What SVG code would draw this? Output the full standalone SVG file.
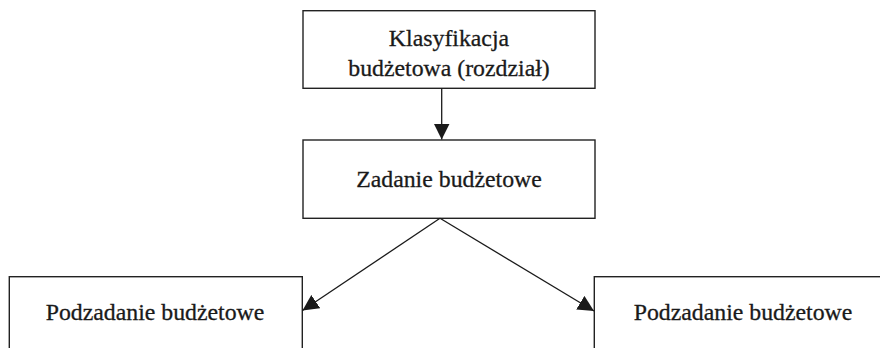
<svg xmlns="http://www.w3.org/2000/svg" width="880" height="348" viewBox="0 0 880 348">
<defs>
<style>
.box{fill:#fff;stroke:#222;stroke-width:1.4}
.lbl{font-family:'Liberation Serif','Times New Roman',serif;font-size:23.8px;fill:#1a1a1a;stroke:#1a1a1a;stroke-width:0.3;text-anchor:middle}
.con{stroke:#1a1a1a;stroke-width:1.3;fill:none}
</style>
<marker id="ah" markerUnits="userSpaceOnUse" markerWidth="16" markerHeight="16" viewBox="0 0 14 14" refX="14" refY="7" orient="auto">
<path d="M0,0 L14,7 L0,14 Z" fill="#1a1a1a"/>
</marker>
</defs>
<rect width="880" height="348" fill="#fff"/>
<g id="n1">
<rect class="box" x="303" y="10.7" width="292" height="77.6"/>
<text class="lbl" x="449" y="46">Klasyfikacja</text>
<text class="lbl" x="449" y="76">budżetowa (rozdział)</text>
</g>
<g id="n2">
<rect class="box" x="303" y="140" width="292" height="78.3"/>
<text class="lbl" x="449" y="187">Zadanie budżetowe</text>
</g>
<g id="n3">
<rect class="box" x="9.3" y="276.7" width="293" height="90"/>
<text class="lbl" x="155" y="320">Podzadanie budżetowe</text>
</g>
<g id="n4">
<rect class="box" x="594.3" y="276.7" width="300" height="90"/>
<text class="lbl" x="743" y="320">Podzadanie budżetowe</text>
</g>
<g id="connectors">
<line class="con" x1="441.7" y1="88.3" x2="441.7" y2="139.5" marker-end="url(#ah)"/>
<line class="con" x1="440" y1="218.3" x2="302.5" y2="310.5" marker-end="url(#ah)"/>
<line class="con" x1="440" y1="218.3" x2="594" y2="311" marker-end="url(#ah)"/>
</g>
</svg>
